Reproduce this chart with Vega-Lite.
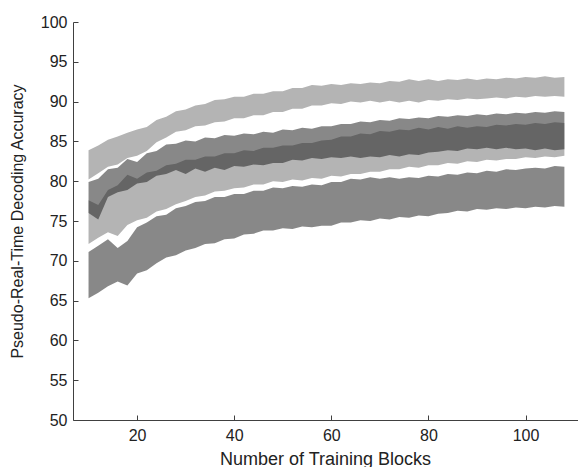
{
  "$schema": "https://vega.github.io/schema/vega-lite/v6.json",
  "width": 505,
  "height": 398,
  "autosize": {"type": "none"},
  "padding": {"left": 73, "top": 22, "right": 0, "bottom": 47},
  "background": "white",
  "config": {
    "view": {"stroke": null},
    "axis": {
      "grid": false,
      "domainColor": "#404040",
      "tickColor": "#404040",
      "labelColor": "#222222",
      "titleColor": "#222222",
      "labelFont": "Liberation Sans",
      "titleFont": "Liberation Sans",
      "labelFontSize": 16,
      "labelOverlap": false,
      "titleFontWeight": "normal",
      "tickSize": -5,
      "domainWidth": 1,
      "tickWidth": 1
    }
  },
  "data": {
    "values": [
      {"x": 10, "a1": 83.9, "a0": 80.2, "b1": 79.9, "b0": 76.0, "c1": 77.6, "c0": 72.1, "d1": 71.1, "d0": 65.3},
      {"x": 12, "a1": 84.5, "a0": 81.0, "b1": 80.3, "b0": 75.2, "c1": 77.0, "c0": 72.9, "d1": 71.9, "d0": 66.0},
      {"x": 14, "a1": 85.2, "a0": 81.8, "b1": 81.5, "b0": 78.0, "c1": 78.9, "c0": 73.6, "d1": 72.7, "d0": 66.8},
      {"x": 16, "a1": 85.6, "a0": 82.1, "b1": 81.7, "b0": 78.6, "c1": 79.5, "c0": 73.1, "d1": 71.6, "d0": 67.4},
      {"x": 18, "a1": 86.1, "a0": 82.9, "b1": 82.8, "b0": 78.9, "c1": 80.8, "c0": 74.5, "d1": 72.5, "d0": 66.9},
      {"x": 20, "a1": 86.5, "a0": 83.2, "b1": 82.4, "b0": 79.7, "c1": 80.3, "c0": 75.1, "d1": 74.2, "d0": 68.4},
      {"x": 22, "a1": 86.8, "a0": 83.8, "b1": 83.5, "b0": 79.9, "c1": 81.1, "c0": 75.4, "d1": 74.8, "d0": 68.8},
      {"x": 24, "a1": 87.7, "a0": 84.9, "b1": 83.8, "b0": 80.7, "c1": 81.3, "c0": 76.2, "d1": 75.6, "d0": 69.7},
      {"x": 26, "a1": 88.1, "a0": 85.5, "b1": 84.6, "b0": 80.9, "c1": 82.0, "c0": 76.5, "d1": 75.8, "d0": 70.4},
      {"x": 28, "a1": 88.8, "a0": 86.2, "b1": 84.7, "b0": 81.4, "c1": 82.2, "c0": 77.1, "d1": 76.6, "d0": 70.7},
      {"x": 30, "a1": 89.0, "a0": 86.4, "b1": 85.1, "b0": 80.9, "c1": 82.7, "c0": 77.5, "d1": 76.9, "d0": 71.3},
      {"x": 32, "a1": 89.5, "a0": 86.9, "b1": 85.0, "b0": 81.6, "c1": 82.7, "c0": 78.0, "d1": 77.4, "d0": 71.6},
      {"x": 34, "a1": 89.7, "a0": 87.0, "b1": 85.5, "b0": 81.2, "c1": 83.1, "c0": 78.2, "d1": 77.5, "d0": 72.1},
      {"x": 36, "a1": 90.2, "a0": 87.4, "b1": 85.4, "b0": 81.7, "c1": 83.1, "c0": 78.7, "d1": 78.0, "d0": 72.2},
      {"x": 38, "a1": 90.3, "a0": 87.5, "b1": 85.8, "b0": 81.4, "c1": 83.5, "c0": 78.8, "d1": 78.0, "d0": 72.7},
      {"x": 40, "a1": 90.6, "a0": 87.9, "b1": 85.7, "b0": 81.9, "c1": 83.5, "c0": 79.1, "d1": 78.4, "d0": 72.8},
      {"x": 42, "a1": 90.6, "a0": 87.9, "b1": 86.0, "b0": 81.8, "c1": 83.9, "c0": 79.2, "d1": 78.4, "d0": 73.3},
      {"x": 44, "a1": 91.0, "a0": 88.3, "b1": 85.9, "b0": 82.1, "c1": 83.8, "c0": 79.6, "d1": 78.8, "d0": 73.4},
      {"x": 46, "a1": 91.0, "a0": 88.3, "b1": 86.2, "b0": 82.0, "c1": 84.2, "c0": 79.6, "d1": 78.8, "d0": 73.8},
      {"x": 48, "a1": 91.3, "a0": 88.7, "b1": 86.1, "b0": 82.3, "c1": 84.2, "c0": 80.0, "d1": 79.2, "d0": 73.8},
      {"x": 50, "a1": 91.3, "a0": 88.7, "b1": 86.5, "b0": 82.3, "c1": 84.5, "c0": 79.9, "d1": 79.1, "d0": 74.1},
      {"x": 52, "a1": 91.7, "a0": 89.1, "b1": 86.4, "b0": 82.7, "c1": 84.5, "c0": 80.2, "d1": 79.4, "d0": 74.0},
      {"x": 54, "a1": 91.7, "a0": 89.1, "b1": 86.7, "b0": 82.6, "c1": 84.8, "c0": 80.1, "d1": 79.3, "d0": 74.3},
      {"x": 56, "a1": 92.1, "a0": 89.5, "b1": 86.6, "b0": 82.9, "c1": 84.8, "c0": 80.4, "d1": 79.6, "d0": 74.2},
      {"x": 58, "a1": 92.0, "a0": 89.5, "b1": 86.9, "b0": 82.8, "c1": 85.1, "c0": 80.3, "d1": 79.5, "d0": 74.4},
      {"x": 60, "a1": 92.2, "a0": 89.8, "b1": 86.9, "b0": 83.0, "c1": 85.2, "c0": 80.7, "d1": 79.9, "d0": 74.4},
      {"x": 62, "a1": 92.1, "a0": 89.7, "b1": 87.2, "b0": 82.9, "c1": 85.6, "c0": 80.6, "d1": 79.9, "d0": 74.8},
      {"x": 64, "a1": 92.3, "a0": 90.0, "b1": 87.2, "b0": 83.1, "c1": 85.6, "c0": 80.9, "d1": 80.3, "d0": 74.8},
      {"x": 66, "a1": 92.2, "a0": 89.9, "b1": 87.5, "b0": 82.9, "c1": 86.0, "c0": 80.9, "d1": 80.2, "d0": 75.1},
      {"x": 68, "a1": 92.4, "a0": 90.1, "b1": 87.4, "b0": 83.1, "c1": 85.9, "c0": 81.2, "d1": 80.5, "d0": 75.0},
      {"x": 70, "a1": 92.3, "a0": 89.9, "b1": 87.7, "b0": 83.0, "c1": 86.3, "c0": 81.2, "d1": 80.3, "d0": 75.3},
      {"x": 72, "a1": 92.6, "a0": 90.1, "b1": 87.6, "b0": 83.3, "c1": 86.2, "c0": 81.5, "d1": 80.5, "d0": 75.2},
      {"x": 74, "a1": 92.5, "a0": 89.9, "b1": 87.9, "b0": 83.1, "c1": 86.5, "c0": 81.5, "d1": 80.3, "d0": 75.5},
      {"x": 76, "a1": 92.8, "a0": 90.1, "b1": 87.8, "b0": 83.4, "c1": 86.4, "c0": 81.8, "d1": 80.5, "d0": 75.4},
      {"x": 78, "a1": 92.6, "a0": 89.9, "b1": 88.0, "b0": 83.3, "c1": 86.7, "c0": 81.7, "d1": 80.4, "d0": 75.7},
      {"x": 80, "a1": 92.8, "a0": 90.2, "b1": 87.9, "b0": 83.6, "c1": 86.5, "c0": 82.0, "d1": 80.7, "d0": 75.6},
      {"x": 82, "a1": 92.6, "a0": 90.1, "b1": 88.2, "b0": 83.7, "c1": 86.8, "c0": 82.0, "d1": 80.6, "d0": 75.9},
      {"x": 84, "a1": 92.8, "a0": 90.3, "b1": 88.1, "b0": 83.9, "c1": 86.6, "c0": 82.3, "d1": 80.9, "d0": 76.0},
      {"x": 86, "a1": 92.7, "a0": 90.2, "b1": 88.3, "b0": 83.8, "c1": 86.9, "c0": 82.2, "d1": 80.8, "d0": 76.3},
      {"x": 88, "a1": 92.9, "a0": 90.4, "b1": 88.2, "b0": 84.1, "c1": 86.7, "c0": 82.5, "d1": 81.1, "d0": 76.2},
      {"x": 90, "a1": 92.7, "a0": 90.3, "b1": 88.4, "b0": 84.0, "c1": 86.9, "c0": 82.4, "d1": 81.0, "d0": 76.5},
      {"x": 92, "a1": 92.9, "a0": 90.4, "b1": 88.3, "b0": 84.2, "c1": 86.8, "c0": 82.7, "d1": 81.3, "d0": 76.4},
      {"x": 94, "a1": 92.8, "a0": 90.5, "b1": 88.5, "b0": 84.0, "c1": 87.1, "c0": 82.6, "d1": 81.2, "d0": 76.6},
      {"x": 96, "a1": 93.0, "a0": 90.4, "b1": 88.4, "b0": 84.2, "c1": 87.0, "c0": 82.8, "d1": 81.5, "d0": 76.5},
      {"x": 98, "a1": 92.9, "a0": 90.6, "b1": 88.6, "b0": 84.0, "c1": 87.2, "c0": 82.8, "d1": 81.4, "d0": 76.7},
      {"x": 100, "a1": 93.1, "a0": 90.5, "b1": 88.5, "b0": 84.1, "c1": 87.1, "c0": 83.0, "d1": 81.6, "d0": 76.6},
      {"x": 102, "a1": 93.0, "a0": 90.7, "b1": 88.7, "b0": 83.9, "c1": 87.3, "c0": 82.9, "d1": 81.7, "d0": 76.8},
      {"x": 104, "a1": 93.2, "a0": 90.6, "b1": 88.6, "b0": 84.1, "c1": 87.2, "c0": 83.1, "d1": 81.6, "d0": 76.7},
      {"x": 106, "a1": 93.0, "a0": 90.7, "b1": 88.8, "b0": 83.9, "c1": 87.4, "c0": 83.0, "d1": 81.9, "d0": 76.9},
      {"x": 108, "a1": 93.1, "a0": 90.6, "b1": 88.7, "b0": 84.0, "c1": 87.3, "c0": 83.2, "d1": 81.8, "d0": 76.8}
    ]
  },
  "encoding": {
    "x": {
      "field": "x",
      "type": "quantitative",
      "scale": {"domain": [6.8, 110.8], "nice": false, "zero": false},
      "axis": {
        "values": [20, 40, 60, 80, 100],
        "title": "Number of Training Blocks",
        "titleFontSize": 18,
        "labelPadding": 12,
        "titleX": 252,
        "titleY": 44,
        "titleAlign": "center",
        "titleBaseline": "alphabetic"
      }
    }
  },
  "layer": [
    {
      "mark": {"type": "area", "color": "#b4b4b4", "opacity": 1},
      "encoding": {
        "y": {
          "field": "a1",
          "type": "quantitative",
          "scale": {"domain": [50, 100], "nice": false, "zero": false},
          "axis": {
            "values": [50, 55, 60, 65, 70, 75, 80, 85, 90, 95, 100],
            "tickCount": 11,
            "title": "Pseudo-Real-Time Decoding Accuracy",
            "titleFontSize": 16,
            "labelPadding": 11,
            "titleX": -56,
            "titleY": 199,
            "titleAngle": -90,
            "titleAlign": "center",
            "titleBaseline": "middle"
          }
        },
        "y2": {"field": "a0"}
      }
    },
    {
      "mark": {"type": "area", "color": "#b4b4b4", "opacity": 1},
      "encoding": {
        "y": {
          "field": "c1",
          "type": "quantitative",
          "axis": {
            "values": [50, 55, 60, 65, 70, 75, 80, 85, 90, 95, 100],
            "tickCount": 11,
            "title": "Pseudo-Real-Time Decoding Accuracy",
            "titleFontSize": 16,
            "labelPadding": 11,
            "titleX": -56,
            "titleY": 199,
            "titleAngle": -90,
            "titleAlign": "center",
            "titleBaseline": "middle"
          }
        },
        "y2": {"field": "c0"}
      }
    },
    {
      "mark": {"type": "area", "color": "#1e1e1e", "opacity": 0.53},
      "encoding": {
        "y": {
          "field": "b1",
          "type": "quantitative",
          "axis": {
            "values": [50, 55, 60, 65, 70, 75, 80, 85, 90, 95, 100],
            "tickCount": 11,
            "title": "Pseudo-Real-Time Decoding Accuracy",
            "titleFontSize": 16,
            "labelPadding": 11,
            "titleX": -56,
            "titleY": 199,
            "titleAngle": -90,
            "titleAlign": "center",
            "titleBaseline": "middle"
          }
        },
        "y2": {"field": "b0"}
      }
    },
    {
      "mark": {"type": "area", "color": "#1e1e1e", "opacity": 0.53},
      "encoding": {
        "y": {
          "field": "d1",
          "type": "quantitative",
          "axis": {
            "values": [50, 55, 60, 65, 70, 75, 80, 85, 90, 95, 100],
            "tickCount": 11,
            "title": "Pseudo-Real-Time Decoding Accuracy",
            "titleFontSize": 16,
            "labelPadding": 11,
            "titleX": -56,
            "titleY": 199,
            "titleAngle": -90,
            "titleAlign": "center",
            "titleBaseline": "middle"
          }
        },
        "y2": {"field": "d0"}
      }
    }
  ]
}
